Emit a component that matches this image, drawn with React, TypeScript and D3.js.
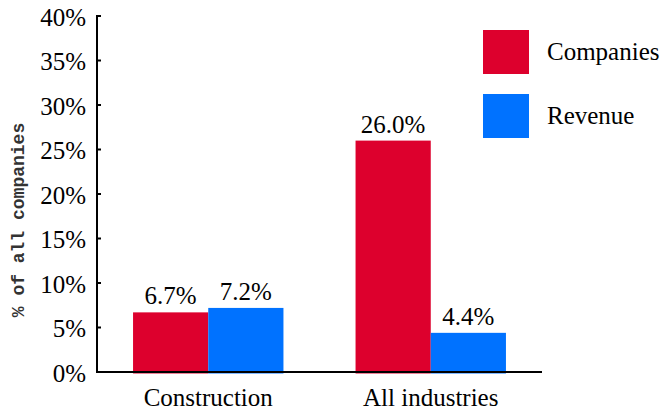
import React from "react";
import * as d3 from "d3";

const categories = ["Construction", "All industries"];
const seriesNames = ["Companies", "Revenue"];
const companies = [6.7, 26.0];
const revenue = [7.2, 4.4];
const yTicks = [0, 5, 10, 15, 20, 25, 30, 35, 40];
const colors = ["#DD002D", "#0072FF"];

const W = 660;
const H = 413;
const left = 97;
const right = 542;
const top = 16;
const bottom = 372;
const serif = "'Liberation Serif', 'Times New Roman', serif";

export default function App() {
  const y = d3.scaleLinear().domain([0, 40]).range([bottom, top]);
  const x0 = d3.scaleBand<string>().domain(categories).range([left, right]).paddingInner(0.324).paddingOuter(0.162);
  const x1 = d3.scaleBand<string>().domain(seriesNames).range([0, x0.bandwidth()]);
  const values = [companies, revenue];

  return (
    <svg width={W} height={H} style={{ position: "absolute", left: 0, top: 0, background: "#fff" }}>
      {categories.map((c, ci) =>
        seriesNames.map((s, si) => {
          const v = values[si][ci];
          const bx = (x0(c) as number) + (x1(s) as number);
          return (
            <g key={c + s}>
              <rect x={bx} y={y(v)} width={x1.bandwidth()} height={y(0) - y(v) + 1.5} fill={colors[si]} />
              <text x={bx + x1.bandwidth() / 2} y={y(v) - 8} textAnchor="middle" fontFamily={serif} fontSize={25} fill="#000">
                {v.toFixed(1)}%
              </text>
            </g>
          );
        })
      )}
      <line x1={left} x2={left} y1={top - 1} y2={bottom + 1} stroke="#000" strokeWidth={2} />
      <line x1={left - 1} x2={right} y1={bottom} y2={bottom} stroke="#000" strokeWidth={2} />
      {yTicks.map((t) => (
        <g key={t}>
          <line x1={left} x2={left + 4} y1={y(t)} y2={y(t)} stroke="#000" strokeWidth={2} />
          <text x={86} y={y(t) + 9.5} textAnchor="end" fontFamily={serif} fontSize={25} fill="#000">
            {t}%
          </text>
        </g>
      ))}
      {categories.map((c) => (
        <text key={c} x={(x0(c) as number) + x0.bandwidth() / 2} y={406} textAnchor="middle" fontFamily={serif} fontSize={25} fill="#000">
          {c}
        </text>
      ))}
      <text
        transform={`translate(24,220) rotate(-90)`}
        textAnchor="middle"
        fontFamily="'Liberation Mono', 'Courier New', monospace"
        fontWeight="bold"
        fontSize={18}
        fill="#333"
      >
        % of all companies
      </text>
      {seriesNames.map((s, i) => (
        <g key={s}>
          <rect x={483} y={30 + i * 64} width={46} height={44} fill={colors[i]} />
          <text x={547} y={60 + i * 64} fontFamily={serif} fontSize={25} fill="#000">
            {s}
          </text>
        </g>
      ))}
    </svg>
  );
}
